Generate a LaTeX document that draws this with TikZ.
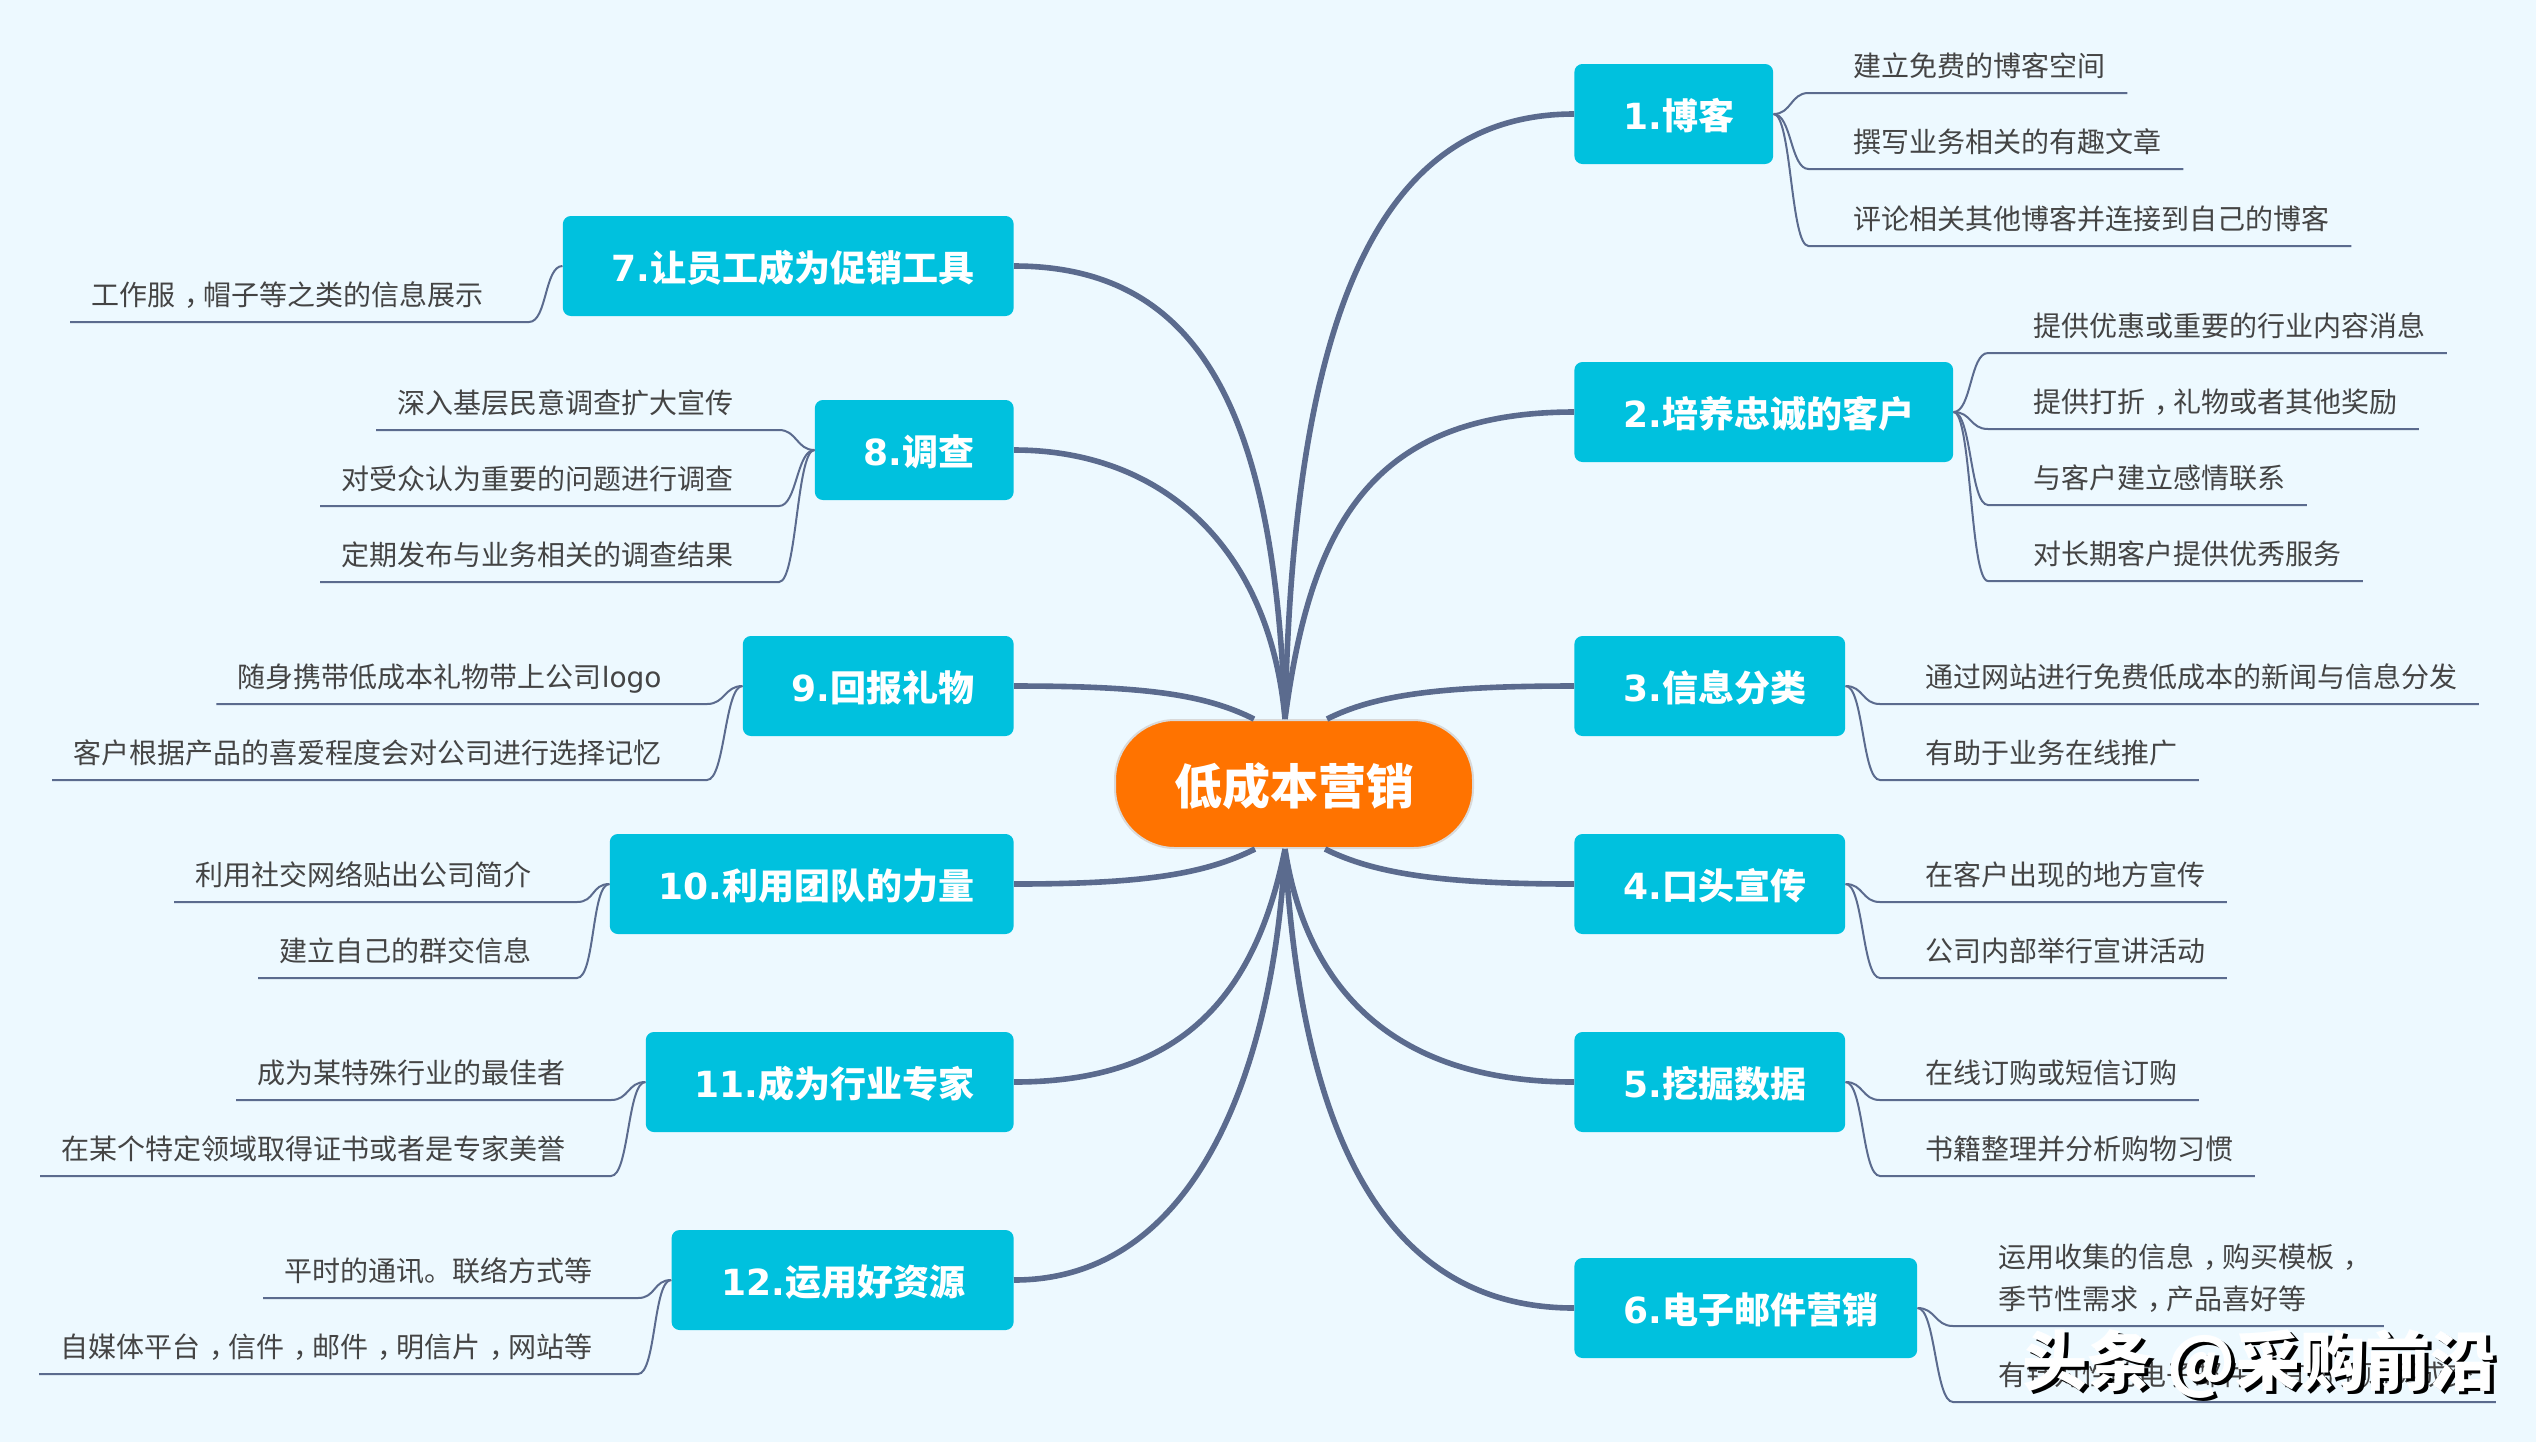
\documentclass[tikz,border=0pt]{standalone}
\usepackage{fontspec}
\setmainfont{Noto Sans CJK SC}
\newfontfamily\latinfont{DejaVu Sans}
\newcommand{\lat}[1]{{\latinfont #1}}
\newcommand{\dou}{\kern.33em，\kern-.33em}
\newcommand{\wmtext}{头条 @采购前沿}
\definecolor{bgcol}{HTML}{EDF9FF}
\definecolor{boxcol}{HTML}{00C1DE}
\definecolor{hubcol}{HTML}{FF7300}
\definecolor{linecol}{HTML}{5B6B8E}
\definecolor{textcol}{HTML}{444444}
\tikzset{
	hubbox/.style={draw=black!15, line width=1pt, fill=hubcol, text=white, font=\fontsize{24pt}{28pt}\selectfont\bfseries, rounded corners=30pt, minimum width=179pt, minimum height=64pt, inner sep=0pt, text height=24pt, text depth=4pt},
	branch/.style={fill=boxcol, text=white, font=\fontsize{18pt}{22pt}\selectfont\bfseries, rounded corners=4pt, minimum height=50pt, inner xsep=22pt, inner ysep=0pt, text height=18pt, text depth=2.6pt, execute at begin node={\kern2.5pt}, execute at end node={\kern-2.5pt}},
	branchr/.style={branch, anchor=west},
	branchl/.style={branch, anchor=east},
	leaf/.style={text=textcol, font=\fontsize{14pt}{21pt}\selectfont, align=left, inner xsep=10.5pt, inner ysep=5.5pt, text height=11.5pt, text depth=2.5pt},
	leafr/.style={leaf, anchor=south west},
	leafl/.style={leaf, anchor=south east},
	trunk/.style={draw=linecol, line width=2.8pt},
	twig/.style={draw=linecol, line width=1pt},
	twigr/.style={twig, to path={.. controls +(18,0) and +(-18,0) .. ([xshift=-12pt]\tikztotarget.south west) -- (\tikztotarget.south east)}},
	twigl/.style={twig, to path={.. controls +(-18,0) and +(18,0) .. ([xshift=12pt]\tikztotarget.south east) -- (\tikztotarget.south west)}},
	wmark/.style={font=\fontsize{32.6pt}{38pt}\selectfont\bfseries, inner sep=0pt}
}
\begin{document}
\begin{tikzpicture}[x=0.5pt, y=-0.5pt]
	\fill[bgcol] (0,0) rectangle (2536,1442);
	\node[hubbox] (hub) at (1294,784) {低成本营销};

	\node[branchr] (b1) at (1574,114) {\lat{1.}博客};
	\node[branchr] (b2) at (1574,412) {\lat{2.}培养忠诚的客户};
	\node[branchr] (b3) at (1574,686) {\lat{3.}信息分类};
	\node[branchr] (b4) at (1574,884) {\lat{4.}口头宣传};
	\node[branchr] (b5) at (1574,1082) {\lat{5.}挖掘数据};
	\node[branchr] (b6) at (1574,1308) {\lat{6.}电子邮件营销};
	\node[branchl] (b7) at (1014,266) {\lat{7.}让员工成为促销工具};
	\node[branchl] (b8) at (1014,450) {\lat{8.}调查};
	\node[branchl] (b9) at (1014,686) {\lat{9.}回报礼物};
	\node[branchl] (b10) at (1014,884) {\lat{10.}利用团队的力量};
	\node[branchl] (b11) at (1014,1082) {\lat{11.}成为行业专家};
	\node[branchl, minimum width=171pt, execute at begin node={\kern-2pt}, execute at end node={\kern2pt}] (b12) at (1014,1280) {\lat{12.}运用好资源};

	\draw[trunk] ([xshift=-4.5pt]hub.north) .. controls +(8,-395) and +(-200,0) .. (b1.west);
	\draw[trunk] ([xshift=-4.5pt]hub.north) .. controls +(25,-190) and +(-205,0) .. (b2.west);
	\draw[trunk] ([xshift=16.5pt]hub.north) .. controls +(50,-25) and +(-130,0) .. (b3.west);
	\draw[trunk] ([xshift=15.5pt]hub.south) .. controls +(50,25) and +(-130,0) .. (b4.west);
	\draw[trunk] ([xshift=-4.5pt]hub.south) .. controls +(20,130) and +(-190,0) .. (b5.west);
	\draw[trunk] ([xshift=-4.5pt]hub.south) .. controls +(15,265) and +(-200,0) .. (b6.west);
	\draw[trunk] ([xshift=-4.5pt]hub.north) .. controls +(-10,-300) and +(190,0) .. (b7.east);
	\draw[trunk] ([xshift=-4.5pt]hub.north) .. controls +(-15,-170) and +(150,0) .. (b8.east);
	\draw[trunk] ([xshift=-20pt]hub.north) .. controls +(-50,-25) and +(130,0) .. (b9.east);
	\draw[trunk] ([xshift=-19.5pt]hub.south) .. controls +(-50,25) and +(130,0) .. (b10.east);
	\draw[trunk] ([xshift=-4.5pt]hub.south) .. controls +(-30,150) and +(165,0) .. (b11.east);
	\draw[trunk] ([xshift=-4.5pt]hub.south) .. controls +(-10,203) and +(190,0) .. (b12.east);

	\node[leafr] (l1a) at (1832.5,93) {建立免费的博客空间};
	\node[leafr] (l1b) at (1832.5,169) {撰写业务相关的有趣文章};
	\node[leafr] (l1c) at (1832.5,246) {评论相关其他博客并连接到自己的博客};
	\node[leafr] (l2a) at (2012,353) {提供优惠或重要的行业内容消息};
	\node[leafr] (l2b) at (2012,429) {提供打折\dou 礼物或者其他奖励};
	\node[leafr] (l2c) at (2012,505) {与客户建立感情联系};
	\node[leafr] (l2d) at (2012,581) {对长期客户提供优秀服务};
	\node[leafr] (l3a) at (1904,704) {通过网站进行免费低成本的新闻与信息分发};
	\node[leafr] (l3b) at (1904,780) {有助于业务在线推广};
	\node[leafr] (l4a) at (1904,902) {在客户出现的地方宣传};
	\node[leafr] (l4b) at (1904,978) {公司内部举行宣讲活动};
	\node[leafr] (l5a) at (1904,1100) {在线订购或短信订购};
	\node[leafr] (l5b) at (1904,1176) {书籍整理并分析购物习惯};
	\node[leafr] (l6a) at (1977,1326) {运用收集的信息\dou 购买模板\dou \\季节性需求\dou 产品喜好等};
	\node[leafr] (l6b) at (1977,1402) {有针对性的电子邮件\dou 有助于购买成交};
	\node[leafl] (l7a) at (505,322) {工作服\dou 帽子等之类的信息展示};
	\node[leafl] (l8a) at (755,430) {深入基层民意调查扩大宣传};
	\node[leafl] (l8b) at (755,506) {对受众认为重要的问题进行调查};
	\node[leafl] (l8c) at (755,582) {定期发布与业务相关的调查结果};
	\node[leafl] (l9a) at (683,704) {随身携带低成本礼物带上公司\lat{logo}};
	\node[leafl] (l9b) at (683,780) {客户根据产品的喜爱程度会对公司进行选择记忆};
	\node[leafl] (l10a) at (553,902) {利用社交网络贴出公司简介};
	\node[leafl] (l10b) at (553,978) {建立自己的群交信息};
	\node[leafl] (l11a) at (587,1100) {成为某特殊行业的最佳者};
	\node[leafl] (l11b) at (587,1176) {在某个特定领域取得证书或者是专家美誉};
	\node[leafl] (l12a) at (614,1298) {平时的通讯。联络方式等};
	\node[leafl] (l12b) at (614,1374) {自媒体平台\dou 信件\dou 邮件\dou 明信片\dou 网站等};

	\draw[twigr] (b1.east) to (l1a);
	\draw[twigr] (b1.east) to (l1b);
	\draw[twigr] (b1.east) to (l1c);
	\draw[twigr] (b2.east) to (l2a);
	\draw[twigr] (b2.east) to (l2b);
	\draw[twigr] (b2.east) to (l2c);
	\draw[twigr] (b2.east) to (l2d);
	\draw[twigr] (b3.east) to (l3a);
	\draw[twigr] (b3.east) to (l3b);
	\draw[twigr] (b4.east) to (l4a);
	\draw[twigr] (b4.east) to (l4b);
	\draw[twigr] (b5.east) to (l5a);
	\draw[twigr] (b5.east) to (l5b);
	\draw[twigr] (b6.east) to (l6a);
	\draw[twigr] (b6.east) to (l6b);
	\draw[twigl] (b7.west) to (l7a);
	\draw[twigl] (b8.west) to (l8a);
	\draw[twigl] (b8.west) to (l8b);
	\draw[twigl] (b8.west) to (l8c);
	\draw[twigl] (b9.west) to (l9a);
	\draw[twigl] (b9.west) to (l9b);
	\draw[twigl] (b10.west) to (l10a);
	\draw[twigl] (b10.west) to (l10b);
	\draw[twigl] (b11.west) to (l11a);
	\draw[twigl] (b11.west) to (l11b);
	\draw[twigl] (b12.west) to (l12a);
	\draw[twigl] (b12.west) to (l12b);

	\node[wmark, text=black] (wmshadow) at (2263,1367) {\wmtext};
	\node[wmark, text=white] (wm) at (2259,1364) {\wmtext};
\end{tikzpicture}
\end{document}
